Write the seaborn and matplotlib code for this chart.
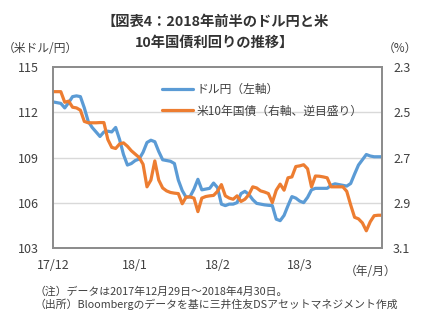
import numpy as np
import pandas as pd
import matplotlib
matplotlib.use("Agg")
import matplotlib.pyplot as plt
import seaborn as sns

# ---- data ----
usdjpy = [112.7, 112.65, 112.6, 112.3, 112.65, 113.05, 113.1, 113.05, 112.3, 111.4,
          111.0, 110.7, 110.4, 110.7, 110.75, 110.7, 111.0, 110.2, 109.2, 108.5,
          108.6, 108.8, 108.9, 109.35, 110.0, 110.15, 110.05, 109.4, 108.85, 108.8,
          108.75, 108.6, 107.5, 106.8, 106.35, 106.4, 106.9, 107.55, 106.85, 106.9,
          106.95, 107.3, 107.0, 105.9, 105.8, 105.9, 105.9, 106.0, 106.6, 106.75,
          106.55, 106.2, 105.95, 105.9, 105.85, 105.82, 105.8, 104.9, 104.8, 105.15,
          105.8, 106.4, 106.3, 106.1, 106.0, 106.35, 106.85, 106.95, 106.95, 106.95,
          106.95, 107.15, 107.25, 107.2, 107.15, 107.1, 107.27, 107.9, 108.5, 108.85,
          109.2, 109.1, 109.05, 109.05, 109.05]
ust10y = [2.408, 2.408, 2.408, 2.455, 2.45, 2.477, 2.48, 2.49, 2.54, 2.546,
          2.546, 2.546, 2.545, 2.545, 2.62, 2.655, 2.66, 2.64, 2.635, 2.65,
          2.67, 2.685, 2.70, 2.73, 2.83, 2.80, 2.715, 2.80, 2.835, 2.848,
          2.855, 2.858, 2.86, 2.905, 2.875, 2.875, 2.88, 2.94, 2.88, 2.873,
          2.87, 2.868, 2.85, 2.82, 2.87, 2.88, 2.885, 2.87, 2.895, 2.885,
          2.865, 2.83, 2.835, 2.848, 2.853, 2.86, 2.9, 2.845, 2.818, 2.845,
          2.79, 2.786, 2.74, 2.737, 2.732, 2.75, 2.83, 2.782, 2.783, 2.786,
          2.79, 2.83, 2.83, 2.83, 2.83, 2.85, 2.91, 2.965, 2.972, 2.99,
          3.025, 2.985, 2.958, 2.956, 2.956]
x_tick_labels = ["17/12", "18/1", "18/2", "18/3", ""]
left_ticks = [103, 106, 109, 112, 115]
right_ticks = [2.3, 2.5, 2.7, 2.9, 3.1]
label_usd = "ドル円（左軸）"
label_ust = "米10年国債（右軸、逆目盛り）"

df = pd.DataFrame({"idx": np.arange(len(usdjpy)), "usdjpy": usdjpy, "ust10y": ust10y})

sns.set_theme(style="white")
plt.rcParams["font.family"] = ["Noto Sans CJK JP", "DejaVu Sans"]

BLUE = "#5B9BD5"
ORANGE = "#ED7D31"
TXT = "#404040"
SPINE = "#8c8c8c"

fig = plt.figure(figsize=(4.28, 3.21), dpi=100)
ax = fig.add_axes([0.1238, 0.2283, 0.7687, 0.562])
ax2 = ax.twinx()

sns.lineplot(data=df, x="idx", y="usdjpy", ax=ax, color=BLUE, linewidth=2.3,
             label=label_usd, legend=False)
sns.lineplot(data=df, x="idx", y="ust10y", ax=ax2, color=ORANGE, linewidth=2.3,
             label=label_ust, legend=False)

n = len(usdjpy)
ax.set_xlim(0, n - 1)
ax.set_ylim(103, 115)
ax.set_yticks(left_ticks)
ax2.set_ylim(3.1, 2.3)
ax2.set_yticks(right_ticks)
ax2.set_yticklabels([f"{v:.1f}" for v in right_ticks])

step = (n - 1) / 4
ax.set_xticks([i * step for i in range(5)])
ax.set_xticklabels(x_tick_labels)

for a in (ax, ax2):
    a.set_xlabel("")
    a.set_ylabel("")
    for s in a.spines.values():
        s.set_color(SPINE)
        s.set_linewidth(1.3)

ax.grid(False)
ax2.grid(False)
for v in [106, 109, 112]:
    ax.axhline(v, color="#d9d9d9", linewidth=1.0, zorder=0)

ax.tick_params(axis="x", direction="in", length=4, color=SPINE, width=1,
               labelsize=9, labelcolor=TXT, pad=8)
ax.tick_params(axis="y", length=0, labelsize=9, labelcolor=TXT, pad=10)
ax2.tick_params(axis="y", length=0, labelsize=9, labelcolor=TXT, pad=8)

h1, l1 = ax.get_legend_handles_labels()
h2, l2 = ax2.get_legend_handles_labels()
leg = ax.legend(h1 + h2, l1 + l2, loc="upper left", bbox_to_anchor=(0.3, 0.97),
                frameon=False, fontsize=8.5, handlelength=2.6, handletextpad=0.3,
                labelspacing=0.7, labelcolor=TXT)

fig.text(0.502, 0.933, "【図表4：2018年前半のドル円と米", ha="center", va="center",
         fontsize=10.3, fontweight="bold", color="#333333")
fig.text(0.502, 0.865, "10年国債利回りの推移】", ha="center", va="center",
         fontsize=10.3, fontweight="bold", color="#333333")
fig.text(0.006, 0.85, "（米ドル/円）", ha="left", va="center", fontsize=8.5, color=TXT)
fig.text(0.975, 0.85, "（%）", ha="right", va="center", fontsize=8.5, color=TXT)
fig.text(0.925, 0.155, "（年/月）", ha="right", va="center", fontsize=8.5, color=TXT)
fig.text(0.08, 0.092, "（注）データは2017年12月29日～2018年4月30日。", ha="left",
         va="center", fontsize=7.8, color=TXT)
fig.text(0.08, 0.052, "（出所）Bloombergのデータを基に三井住友DSアセットマネジメント作成",
         ha="left", va="center", fontsize=7.8, color=TXT)

fig.savefig("out.png", dpi=100)
